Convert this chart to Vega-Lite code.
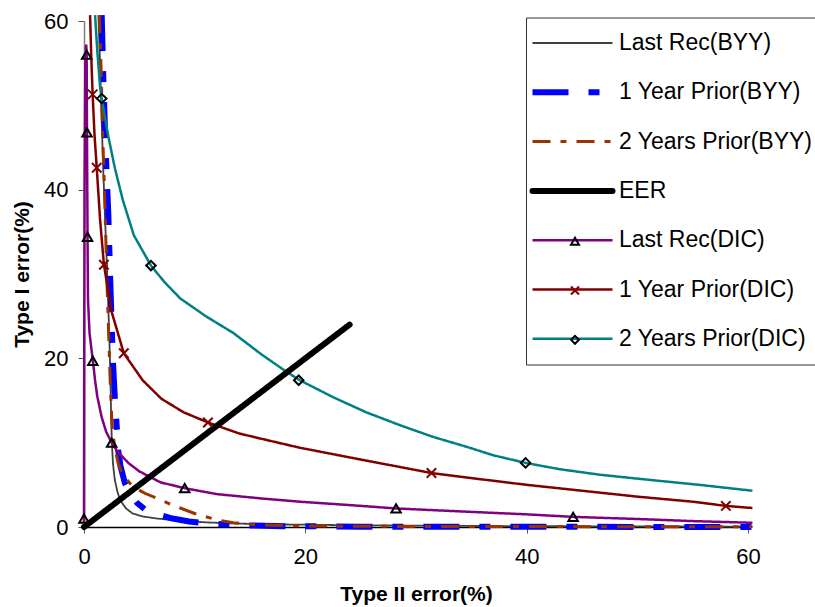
{
  "$schema": "https://vega.github.io/schema/vega-lite/v6.json",
  "autosize": {"type": "none"},
  "padding": {"left": 84, "top": 21, "right": 67, "bottom": 80},
  "width": 664,
  "height": 506,
  "background": "white",
  "config": {
    "view": {"stroke": null},
    "font": "Liberation Sans",
    "axis": {"grid": false, "labelFont": "Liberation Sans", "titleFont": "Liberation Sans", "labelColor": "black", "titleColor": "black", "labelFontSize": 22, "titleFontSize": 21, "titleFontWeight": "bold", "labelFlush": false, "labelOverlap": false}
  },
  "datasets": {
    "curves": [
      {"s": "Last Rec(BYY)", "x": 1.3, "y": 60.7},
      {"s": "Last Rec(BYY)", "x": 1.45, "y": 55},
      {"s": "Last Rec(BYY)", "x": 1.6, "y": 48},
      {"s": "Last Rec(BYY)", "x": 1.75, "y": 42},
      {"s": "Last Rec(BYY)", "x": 1.95, "y": 35},
      {"s": "Last Rec(BYY)", "x": 2.15, "y": 28},
      {"s": "Last Rec(BYY)", "x": 2.3, "y": 22},
      {"s": "Last Rec(BYY)", "x": 2.4, "y": 17},
      {"s": "Last Rec(BYY)", "x": 2.45, "y": 13},
      {"s": "Last Rec(BYY)", "x": 2.52, "y": 10},
      {"s": "Last Rec(BYY)", "x": 2.62, "y": 7.5},
      {"s": "Last Rec(BYY)", "x": 2.78, "y": 5.6},
      {"s": "Last Rec(BYY)", "x": 3.0, "y": 4.3},
      {"s": "Last Rec(BYY)", "x": 3.25, "y": 3.2},
      {"s": "Last Rec(BYY)", "x": 3.8, "y": 2.2},
      {"s": "Last Rec(BYY)", "x": 4.4, "y": 1.6},
      {"s": "Last Rec(BYY)", "x": 5.3, "y": 1.25},
      {"s": "Last Rec(BYY)", "x": 6.6, "y": 1.0},
      {"s": "Last Rec(BYY)", "x": 8.7, "y": 0.75},
      {"s": "Last Rec(BYY)", "x": 11, "y": 0.55},
      {"s": "Last Rec(BYY)", "x": 14, "y": 0.4},
      {"s": "Last Rec(BYY)", "x": 18, "y": 0.3},
      {"s": "Last Rec(BYY)", "x": 25, "y": 0.2},
      {"s": "Last Rec(BYY)", "x": 35, "y": 0.12},
      {"s": "Last Rec(BYY)", "x": 45, "y": 0.08},
      {"s": "Last Rec(BYY)", "x": 60.4, "y": 0.05},
      {"s": "1 Year Prior(BYY)", "x": 1.6, "y": 60.7},
      {"s": "1 Year Prior(BYY)", "x": 1.75, "y": 53},
      {"s": "1 Year Prior(BYY)", "x": 1.95, "y": 45},
      {"s": "1 Year Prior(BYY)", "x": 2.2, "y": 37},
      {"s": "1 Year Prior(BYY)", "x": 2.4, "y": 28},
      {"s": "1 Year Prior(BYY)", "x": 2.6, "y": 20},
      {"s": "1 Year Prior(BYY)", "x": 2.8, "y": 15},
      {"s": "1 Year Prior(BYY)", "x": 2.95, "y": 12},
      {"s": "1 Year Prior(BYY)", "x": 3.1, "y": 9},
      {"s": "1 Year Prior(BYY)", "x": 3.3, "y": 7.2},
      {"s": "1 Year Prior(BYY)", "x": 3.7, "y": 5.2},
      {"s": "1 Year Prior(BYY)", "x": 4.2, "y": 3.9},
      {"s": "1 Year Prior(BYY)", "x": 4.8, "y": 2.85},
      {"s": "1 Year Prior(BYY)", "x": 5.5, "y": 2.1},
      {"s": "1 Year Prior(BYY)", "x": 6.6, "y": 1.5},
      {"s": "1 Year Prior(BYY)", "x": 8, "y": 1.0},
      {"s": "1 Year Prior(BYY)", "x": 9.5, "y": 0.65},
      {"s": "1 Year Prior(BYY)", "x": 11.5, "y": 0.4},
      {"s": "1 Year Prior(BYY)", "x": 14.7, "y": 0.2},
      {"s": "1 Year Prior(BYY)", "x": 18, "y": 0.1},
      {"s": "1 Year Prior(BYY)", "x": 25, "y": 0.04},
      {"s": "1 Year Prior(BYY)", "x": 35, "y": 0.02},
      {"s": "1 Year Prior(BYY)", "x": 60.4, "y": 0.01},
      {"s": "2 Years Prior(BYY)", "x": 1.4, "y": 60.7},
      {"s": "2 Years Prior(BYY)", "x": 1.55, "y": 54},
      {"s": "2 Years Prior(BYY)", "x": 1.7, "y": 46},
      {"s": "2 Years Prior(BYY)", "x": 1.9, "y": 38},
      {"s": "2 Years Prior(BYY)", "x": 2.05, "y": 30},
      {"s": "2 Years Prior(BYY)", "x": 2.2, "y": 24},
      {"s": "2 Years Prior(BYY)", "x": 2.35, "y": 18},
      {"s": "2 Years Prior(BYY)", "x": 2.5, "y": 13},
      {"s": "2 Years Prior(BYY)", "x": 2.6, "y": 11.1},
      {"s": "2 Years Prior(BYY)", "x": 2.8, "y": 9.3},
      {"s": "2 Years Prior(BYY)", "x": 3.1, "y": 7.5},
      {"s": "2 Years Prior(BYY)", "x": 3.5, "y": 6.2},
      {"s": "2 Years Prior(BYY)", "x": 4.4, "y": 4.8},
      {"s": "2 Years Prior(BYY)", "x": 5.5, "y": 4.0},
      {"s": "2 Years Prior(BYY)", "x": 6.6, "y": 3.4},
      {"s": "2 Years Prior(BYY)", "x": 8, "y": 2.6},
      {"s": "2 Years Prior(BYY)", "x": 8.7, "y": 2.25},
      {"s": "2 Years Prior(BYY)", "x": 10, "y": 1.6},
      {"s": "2 Years Prior(BYY)", "x": 10.8, "y": 1.3},
      {"s": "2 Years Prior(BYY)", "x": 12, "y": 0.85},
      {"s": "2 Years Prior(BYY)", "x": 13.5, "y": 0.5},
      {"s": "2 Years Prior(BYY)", "x": 14.7, "y": 0.35},
      {"s": "2 Years Prior(BYY)", "x": 17, "y": 0.2},
      {"s": "2 Years Prior(BYY)", "x": 20, "y": 0.12},
      {"s": "2 Years Prior(BYY)", "x": 30, "y": 0.06},
      {"s": "2 Years Prior(BYY)", "x": 60.4, "y": 0.03},
      {"s": "EER", "x": 0, "y": 0},
      {"s": "EER", "x": 24, "y": 24},
      {"s": "Last Rec(DIC)", "x": 0.0, "y": 0.6},
      {"s": "Last Rec(DIC)", "x": 0.02, "y": 20},
      {"s": "Last Rec(DIC)", "x": 0.05, "y": 40},
      {"s": "Last Rec(DIC)", "x": 0.12, "y": 55},
      {"s": "Last Rec(DIC)", "x": 0.2, "y": 57.2},
      {"s": "Last Rec(DIC)", "x": 0.24, "y": 56},
      {"s": "Last Rec(DIC)", "x": 0.27, "y": 46.8},
      {"s": "Last Rec(DIC)", "x": 0.32, "y": 34.4},
      {"s": "Last Rec(DIC)", "x": 0.36, "y": 27},
      {"s": "Last Rec(DIC)", "x": 0.5, "y": 23},
      {"s": "Last Rec(DIC)", "x": 0.8, "y": 19.7},
      {"s": "Last Rec(DIC)", "x": 1.0, "y": 17.4},
      {"s": "Last Rec(DIC)", "x": 1.2, "y": 15.5},
      {"s": "Last Rec(DIC)", "x": 1.6, "y": 13},
      {"s": "Last Rec(DIC)", "x": 2.0, "y": 11.3},
      {"s": "Last Rec(DIC)", "x": 2.5, "y": 10},
      {"s": "Last Rec(DIC)", "x": 3.0, "y": 9.0},
      {"s": "Last Rec(DIC)", "x": 4, "y": 7.6},
      {"s": "Last Rec(DIC)", "x": 5, "y": 6.6},
      {"s": "Last Rec(DIC)", "x": 6.9, "y": 5.3},
      {"s": "Last Rec(DIC)", "x": 9.1, "y": 4.6},
      {"s": "Last Rec(DIC)", "x": 12, "y": 3.9},
      {"s": "Last Rec(DIC)", "x": 15.9, "y": 3.4},
      {"s": "Last Rec(DIC)", "x": 19.5, "y": 3.0},
      {"s": "Last Rec(DIC)", "x": 24, "y": 2.6},
      {"s": "Last Rec(DIC)", "x": 28.2, "y": 2.2},
      {"s": "Last Rec(DIC)", "x": 34, "y": 1.85},
      {"s": "Last Rec(DIC)", "x": 40, "y": 1.5},
      {"s": "Last Rec(DIC)", "x": 44.2, "y": 1.2},
      {"s": "Last Rec(DIC)", "x": 50, "y": 0.95},
      {"s": "Last Rec(DIC)", "x": 55, "y": 0.7},
      {"s": "Last Rec(DIC)", "x": 60.4, "y": 0.5},
      {"s": "1 Year Prior(DIC)", "x": 0.55, "y": 60.7},
      {"s": "1 Year Prior(DIC)", "x": 0.65, "y": 56},
      {"s": "1 Year Prior(DIC)", "x": 0.78, "y": 51.3},
      {"s": "1 Year Prior(DIC)", "x": 0.95, "y": 46.5},
      {"s": "1 Year Prior(DIC)", "x": 1.15, "y": 42.6},
      {"s": "1 Year Prior(DIC)", "x": 1.45, "y": 36.5},
      {"s": "1 Year Prior(DIC)", "x": 1.8, "y": 31.1},
      {"s": "1 Year Prior(DIC)", "x": 2.5, "y": 25.5},
      {"s": "1 Year Prior(DIC)", "x": 3.6, "y": 20.6},
      {"s": "1 Year Prior(DIC)", "x": 5.3, "y": 17.4},
      {"s": "1 Year Prior(DIC)", "x": 7, "y": 15.2},
      {"s": "1 Year Prior(DIC)", "x": 9, "y": 13.6},
      {"s": "1 Year Prior(DIC)", "x": 11.2, "y": 12.4},
      {"s": "1 Year Prior(DIC)", "x": 14, "y": 11.1},
      {"s": "1 Year Prior(DIC)", "x": 15.9, "y": 10.5},
      {"s": "1 Year Prior(DIC)", "x": 19.5, "y": 9.4},
      {"s": "1 Year Prior(DIC)", "x": 25, "y": 8.0},
      {"s": "1 Year Prior(DIC)", "x": 31.4, "y": 6.4},
      {"s": "1 Year Prior(DIC)", "x": 35, "y": 5.8},
      {"s": "1 Year Prior(DIC)", "x": 40, "y": 5.0},
      {"s": "1 Year Prior(DIC)", "x": 45, "y": 4.3},
      {"s": "1 Year Prior(DIC)", "x": 50, "y": 3.6},
      {"s": "1 Year Prior(DIC)", "x": 55, "y": 3.0},
      {"s": "1 Year Prior(DIC)", "x": 58, "y": 2.5},
      {"s": "1 Year Prior(DIC)", "x": 60.4, "y": 2.25},
      {"s": "2 Years Prior(DIC)", "x": 1.0, "y": 60.7},
      {"s": "2 Years Prior(DIC)", "x": 1.2, "y": 56.5},
      {"s": "2 Years Prior(DIC)", "x": 1.45, "y": 52.2},
      {"s": "2 Years Prior(DIC)", "x": 1.6, "y": 50.8},
      {"s": "2 Years Prior(DIC)", "x": 2.2, "y": 46.3},
      {"s": "2 Years Prior(DIC)", "x": 2.8, "y": 42.5},
      {"s": "2 Years Prior(DIC)", "x": 3.5, "y": 38.8},
      {"s": "2 Years Prior(DIC)", "x": 4.5, "y": 34.6},
      {"s": "2 Years Prior(DIC)", "x": 6.05, "y": 31.0},
      {"s": "2 Years Prior(DIC)", "x": 7.3, "y": 29.0},
      {"s": "2 Years Prior(DIC)", "x": 8.7, "y": 27.1},
      {"s": "2 Years Prior(DIC)", "x": 11, "y": 25.0},
      {"s": "2 Years Prior(DIC)", "x": 13.5, "y": 23.0},
      {"s": "2 Years Prior(DIC)", "x": 16, "y": 20.5},
      {"s": "2 Years Prior(DIC)", "x": 18.3, "y": 18.4},
      {"s": "2 Years Prior(DIC)", "x": 19.5, "y": 17.4},
      {"s": "2 Years Prior(DIC)", "x": 22.5, "y": 15.4},
      {"s": "2 Years Prior(DIC)", "x": 25.5, "y": 13.6},
      {"s": "2 Years Prior(DIC)", "x": 28.5, "y": 12.1},
      {"s": "2 Years Prior(DIC)", "x": 31.5, "y": 10.7},
      {"s": "2 Years Prior(DIC)", "x": 34.6, "y": 9.5},
      {"s": "2 Years Prior(DIC)", "x": 37, "y": 8.5},
      {"s": "2 Years Prior(DIC)", "x": 39.9, "y": 7.6},
      {"s": "2 Years Prior(DIC)", "x": 43, "y": 6.85},
      {"s": "2 Years Prior(DIC)", "x": 46.6, "y": 6.2},
      {"s": "2 Years Prior(DIC)", "x": 51, "y": 5.6},
      {"s": "2 Years Prior(DIC)", "x": 55.6, "y": 5.0},
      {"s": "2 Years Prior(DIC)", "x": 60.4, "y": 4.3}
    ],
    "markers": [
      {"m": "Last Rec(DIC)", "x": 0.0, "y": 1.0},
      {"m": "Last Rec(DIC)", "x": 0.24, "y": 56},
      {"m": "Last Rec(DIC)", "x": 0.27, "y": 46.8},
      {"m": "Last Rec(DIC)", "x": 0.32, "y": 34.4},
      {"m": "Last Rec(DIC)", "x": 0.8, "y": 19.7},
      {"m": "Last Rec(DIC)", "x": 2.5, "y": 10.0},
      {"m": "Last Rec(DIC)", "x": 9.1, "y": 4.6},
      {"m": "Last Rec(DIC)", "x": 28.2, "y": 2.2},
      {"m": "Last Rec(DIC)", "x": 44.2, "y": 1.2},
      {"m": "1 Year Prior(DIC)", "x": 0.78, "y": 51.3},
      {"m": "1 Year Prior(DIC)", "x": 1.15, "y": 42.6},
      {"m": "1 Year Prior(DIC)", "x": 1.8, "y": 31.1},
      {"m": "1 Year Prior(DIC)", "x": 3.6, "y": 20.6},
      {"m": "1 Year Prior(DIC)", "x": 11.2, "y": 12.4},
      {"m": "1 Year Prior(DIC)", "x": 31.4, "y": 6.4},
      {"m": "1 Year Prior(DIC)", "x": 58, "y": 2.5},
      {"m": "2 Years Prior(DIC)", "x": 1.6, "y": 50.8},
      {"m": "2 Years Prior(DIC)", "x": 6.05, "y": 31.0},
      {"m": "2 Years Prior(DIC)", "x": 19.4, "y": 17.4},
      {"m": "2 Years Prior(DIC)", "x": 39.9, "y": 7.6}
    ]
  },
  "encoding": {
    "x": {"field": "x", "type": "quantitative", "scale": {"domain": [0, 60], "nice": false, "zero": false},
      "axis": {"values": [0, 20, 40, 60], "title": "Type II error(%)", "domainColor": "black", "domainWidth": 1.5, "tickColor": "#555555", "tickSize": 6, "labelBaseline": "alphabetic", "labelPadding": 30, "titleBaseline": "alphabetic", "titleY": 73}},
    "y": {"field": "y", "type": "quantitative", "scale": {"domain": [0, 60], "nice": false, "zero": false},
      "axis": {"values": [0, 20, 40, 60], "title": "Type I error(%)", "domainColor": "#808080", "domainWidth": 1.5, "tickColor": "#555555", "tickSize": 6, "labelPadding": 10, "titleBaseline": "alphabetic", "titleX": -56, "titleY": 253}}
  },
  "layer": [
    {
      "data": {"name": "curves"},
      "encoding": {
        "color": {"field": "s", "type": "nominal",
          "scale": {"domain": ["Last Rec(BYY)", "1 Year Prior(BYY)", "2 Years Prior(BYY)", "EER", "Last Rec(DIC)", "1 Year Prior(DIC)", "2 Years Prior(DIC)"],
                    "range": ["#404040", "#0000FF", "#993300", "#000000", "#800080", "#800000", "#008080"]},
          "legend": {"orient": "none", "legendX": 442, "legendY": -3.5, "title": null, "symbolType": "stroke", "symbolSize": 6400, "clipHeight": 47, "rowPadding": 2.3, "padding": 2, "symbolOffset": 3, "labelOffset": 5, "strokeColor": "#333333", "fillColor": "white", "labelFont": "Liberation Sans", "labelFontSize": 23, "labelColor": "black", "labelLimit": 400,
            "encode": {"symbols": {"update": {
              "strokeWidth": {"signal": "(datum.value === 'EER' || datum.value === '1 Year Prior(BYY)' ? 6 : datum.value === '2 Years Prior(BYY)' ? 3 : datum.value === 'Last Rec(BYY)' ? 1.8 : 2.5)"},
              "strokeCap": {"signal": "(datum.value === 'EER' ? 'round' : 'butt')"}}}}}},
        "strokeDash": {"field": "s", "type": "nominal",
          "scale": {"domain": ["Last Rec(BYY)", "1 Year Prior(BYY)", "2 Years Prior(BYY)", "EER", "Last Rec(DIC)", "1 Year Prior(DIC)", "2 Years Prior(DIC)"],
                    "range": [[1, 0], [36, 20, 11, 20], [18, 10, 6, 10], [1, 0], [1, 0], [1, 0], [1, 0]]},
          "legend": {"orient": "none", "legendX": 442, "legendY": -3.5, "title": null, "symbolType": "stroke", "symbolSize": 6400, "clipHeight": 47, "rowPadding": 2.3, "padding": 2, "symbolOffset": 3, "labelOffset": 5, "strokeColor": "#333333", "fillColor": "white", "labelFont": "Liberation Sans", "labelFontSize": 23, "labelColor": "black", "labelLimit": 400,
            "encode": {"symbols": {"update": {
              "strokeWidth": {"signal": "(datum.value === 'EER' || datum.value === '1 Year Prior(BYY)' ? 6 : datum.value === '2 Years Prior(BYY)' ? 3 : datum.value === 'Last Rec(BYY)' ? 1.8 : 2.5)"},
              "strokeCap": {"signal": "(datum.value === 'EER' ? 'round' : 'butt')"}}}}}}
      },
      "layer": [
        {
          "transform": [{"filter": "datum.s !== 'EER'"}],
          "mark": {"type": "line", "clip": false, "strokeCap": "butt"},
          "encoding": {
            "strokeWidth": {"condition": [
              {"test": "datum.s === '1 Year Prior(BYY)'", "value": 6},
              {"test": "datum.s === '2 Years Prior(BYY)'", "value": 3},
              {"test": "datum.s === 'Last Rec(BYY)'", "value": 1.8}], "value": 2.5}
          }
        },
        {
          "transform": [{"filter": "datum.s === 'EER'"}],
          "mark": {"type": "line", "clip": false, "strokeCap": "round", "strokeWidth": 6}
        }
      ]
    },
    {
      "data": {"name": "markers"},
      "mark": {"type": "point", "filled": false, "strokeWidth": 2, "size": 90, "opacity": 1, "clip": false},
      "encoding": {
        "shape": {"field": "m", "type": "nominal",
          "scale": {"domain": ["Last Rec(DIC)", "1 Year Prior(DIC)", "2 Years Prior(DIC)"], "range": ["triangle-up", "M-1,-1L1,1M-1,1L1,-1", "diamond"]},
          "legend": {"orient": "none", "legendX": 442, "legendY": 194.7, "title": null, "symbolSize": 64, "symbolStrokeWidth": 2, "symbolFillColor": "transparent", "clipHeight": 47, "rowPadding": 2.3, "padding": 2, "symbolOffset": 36, "labelExpr": "''", "labelFontSize": 22, "strokeColor": null, "fillColor": null}},
        "stroke": {"field": "m", "type": "nominal",
          "scale": {"domain": ["Last Rec(DIC)", "1 Year Prior(DIC)", "2 Years Prior(DIC)"], "range": ["#000000", "#800000", "#000000"]},
          "legend": {"orient": "none", "legendX": 442, "legendY": 194.7, "title": null, "symbolSize": 64, "symbolStrokeWidth": 2, "symbolFillColor": "transparent", "clipHeight": 47, "rowPadding": 2.3, "padding": 2, "symbolOffset": 36, "labelExpr": "''", "labelFontSize": 22, "strokeColor": null, "fillColor": null}}
      }
    }
  ]
}
